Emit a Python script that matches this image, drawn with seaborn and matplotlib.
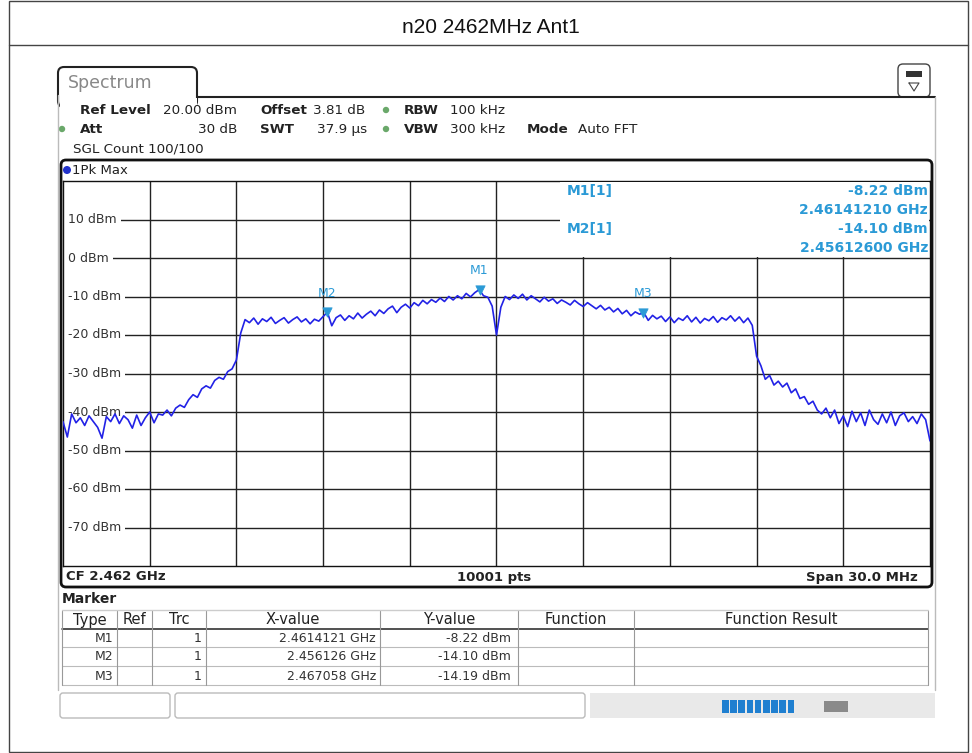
import numpy as np
import pandas as pd
import matplotlib
matplotlib.use("Agg")
import matplotlib.pyplot as plt
from matplotlib.patches import FancyBboxPatch, Rectangle, Circle
import seaborn as sns

# Trace levels (dBm), one point every 150 kHz from 2.447 GHz
f_start = 2.447
f_step = 0.00015
level_dbm = [
    -42.5, -46.5, -40.5, -42.8, -41.5, -43.5, -41.0, -42.5, -44.0, -46.8,
    -41.2, -42.5, -40.5, -43.0, -41.0, -42.0, -44.2, -40.8, -43.5, -41.5,
    -40.0, -42.8, -40.5, -40.8, -39.5, -41.0, -39.0, -38.2, -38.8, -36.8,
    -35.5, -36.2, -34.0, -33.2, -33.8, -31.8, -31.0, -31.5, -29.5, -28.8,
    -26.5, -19.5, -16.0, -16.8, -15.6, -17.2, -15.8, -16.5, -15.4, -17.0,
    -16.2, -15.5, -16.9, -16.0, -15.3, -16.6, -15.8, -17.1, -15.9, -16.4,
    -15.2, -14.1, -17.6, -15.5, -14.8, -16.2, -15.0, -15.8, -14.3, -15.6,
    -14.6, -13.8, -15.0, -13.5, -14.4, -13.2, -12.5, -14.2, -12.8, -12.0,
    -13.0, -11.6, -12.4, -11.0, -11.9, -10.8, -11.5, -10.4, -11.3, -10.0,
    -10.9, -9.8, -10.6, -9.2, -10.1, -9.0, -8.2, -9.8, -10.2, -12.5,
    -20.0, -12.8, -10.0, -10.8, -9.6, -10.5, -9.4, -10.9, -9.8, -10.6,
    -11.4, -10.2, -11.2, -10.6, -11.8, -10.9, -11.5, -12.2, -11.0, -11.9,
    -12.6, -11.6, -12.4, -13.2, -12.3, -13.5, -12.8, -14.0, -13.1, -14.5,
    -13.6, -15.0, -14.0, -14.6, -14.2, -16.2, -14.9, -15.8, -15.1, -16.5,
    -15.3, -16.8, -15.6, -16.2, -15.0, -16.6, -15.4, -16.9, -15.7, -16.3,
    -15.2, -16.7, -15.5, -16.1, -15.0, -16.4, -15.3, -16.8, -15.6, -17.5,
    -25.5, -28.0, -31.5, -30.5, -33.0, -32.0, -33.5, -32.5, -35.0, -34.0,
    -36.5, -36.0, -38.0, -37.2, -39.5, -40.5, -39.0, -41.5, -39.5, -43.0,
    -41.0, -43.8, -39.8, -42.5, -40.2, -43.5, -39.5, -42.0, -43.2, -40.5,
    -42.8, -40.0, -43.5, -41.0, -40.2, -42.5, -41.2, -43.0, -40.5, -42.0,
    -47.5,
]

marker_names = ["M1", "M2", "M3"]
marker_freq = [2.4614121, 2.456126, 2.467058]
marker_level = [-8.22, -14.10, -14.19]
marker_xtext = ["2.4614121 GHz", "2.456126 GHz", "2.467058 GHz"]
marker_ytext = ["-8.22 dBm", "-14.10 dBm", "-14.19 dBm"]
readout_lines = [("M1[1]", "-8.22 dBm", "2.46141210 GHz"),
                 ("M2[1]", "-14.10 dBm", "2.45612600 GHz")]

y_ticks = [10, 0, -10, -20, -30, -40, -50, -60, -70]
table_cols = ["Type", "Ref", "Trc", "X-value", "Y-value", "Function", "Function Result"]

df = pd.DataFrame({"freq": f_start + f_step * np.arange(len(level_dbm)), "level": level_dbm})
mk = pd.DataFrame({"freq": marker_freq, "level": marker_level, "name": marker_names})

W, H = 972, 753
TRACE = "#2222e6"
MBLUE = "#2b9ad6"
GREEN = "#6aa86a"

sns.set_style("white")
plt.rcParams["font.family"] = "DejaVu Sans"
fig = plt.figure(figsize=(W / 100, H / 100), dpi=100)

# background layer in pixel coordinates
bg = fig.add_axes([0, 0, 1, 1], zorder=0)
bg.set_xlim(0, W)
bg.set_ylim(H, 0)
bg.axis("off")

# outer title table
bg.add_patch(Rectangle((9, 1), 959, 751, fill=False, ec="#444", lw=1))
bg.plot([9, 968], [45, 45], color="#444", lw=1)
bg.text(491, 27, "n20 2462MHz Ant1", ha="center", va="center", fontsize=15,
        family="Liberation Sans", color="#111")

# spectrum tab and panel
bg.add_patch(FancyBboxPatch((58, 67), 139, 40, boxstyle="round,pad=0,rounding_size=6",
                            fc="white", ec="#222", lw=1.5))
bg.add_patch(Rectangle((59.5, 97.5), 137, 12, fc="white", ec="none", zorder=3))
bg.plot([197, 935], [97, 97], color="#222", lw=1.5)
bg.plot([58, 58], [95, 690], color="#bbb", lw=1)
bg.plot([935, 935], [97, 690], color="#bbb", lw=1)
bg.text(68, 83, "Spectrum", ha="left", va="center", fontsize=12.5, color="#888")
bg.add_patch(FancyBboxPatch((898, 64), 32, 33, boxstyle="round,pad=0,rounding_size=5",
                            fc="white", ec="#444", lw=1))
bg.add_patch(Rectangle((906, 71), 16, 6, fc="#333", ec="none"))
bg.plot([909, 919, 914, 909], [83, 83, 91, 83], color="#444", lw=0.8)

# settings header
hs = 9.7
def hdr(x, y, s, bold=False, ha="left"):
    bg.text(x, y, s, ha=ha, va="center", fontsize=hs, color="#222",
            fontweight="bold" if bold else "normal")

hdr(80, 110, "Ref Level", True)
hdr(163, 110, "20.00 dBm")
hdr(260, 110, "Offset", True)
hdr(313, 110, "3.81 dB")
hdr(404, 110, "RBW", True)
hdr(450, 110, "100 kHz")
hdr(80, 129, "Att", True)
hdr(237, 129, "30 dB", ha="right")
hdr(260, 129, "SWT", True)
hdr(317, 129, "37.9 µs")
hdr(404, 129, "VBW", True)
hdr(450, 129, "300 kHz")
hdr(527, 129, "Mode", True)
hdr(578, 129, "Auto FFT")
hdr(73, 149, "SGL Count 100/100")
for cx, cy in [(386, 110), (62, 129), (386, 129)]:
    bg.add_patch(Circle((cx, cy), 3.2, fc=GREEN, ec="none"))

# diagram frame
bg.add_patch(FancyBboxPatch((61, 160), 871, 427, boxstyle="round,pad=0,rounding_size=5",
                            fc="white", ec="#111", lw=2))
bg.add_patch(Circle((67, 170), 4, fc="#2233cc", ec="none"))
bg.text(72, 170, "1Pk Max", ha="left", va="center", fontsize=9.5, color="#222")
bg.text(66, 577, "CF 2.462 GHz", ha="left", va="center", fontsize=9.5, fontweight="bold", color="#222")
bg.text(494, 577, "10001 pts", ha="center", va="center", fontsize=9.5, fontweight="bold", color="#222")
bg.text(918, 577, "Span 30.0 MHz", ha="right", va="center", fontsize=9.5, fontweight="bold", color="#222")

# marker table
bg.text(62, 599, "Marker", ha="left", va="center", fontsize=10, fontweight="bold", color="#222")
col_x = [62, 117, 152, 206, 380, 518, 634, 928]
bg.plot([62, 928], [610, 610], color="#ccc", lw=1)
bg.plot([62, 928], [629, 629], color="#333", lw=1.2)
for yy in [647, 666, 685]:
    bg.plot([62, 928], [yy, yy], color="#bbb", lw=0.8)
for xx in col_x:
    bg.plot([xx, xx], [611, 685], color="#999", lw=0.8)
for i, name in enumerate(table_cols):
    bg.text((col_x[i] + col_x[i + 1]) / 2, 620, name, ha="center", va="center",
            fontsize=10.5, color="#222")
for r in range(len(marker_names)):
    yy = 638 + r * 19
    bg.text(col_x[1] - 4, yy, marker_names[r], ha="right", va="center", fontsize=9, color="#333")
    bg.text(col_x[3] - 4, yy, "1", ha="right", va="center", fontsize=9, color="#333")
    bg.text(col_x[4] - 4, yy, marker_xtext[r], ha="right", va="center", fontsize=9, color="#333")
    bg.text(col_x[5] - 7, yy, marker_ytext[r], ha="right", va="center", fontsize=9, color="#333")

# status bar
bg.add_patch(Rectangle((590, 693), 345, 25, fc="#e9e9e9", ec="none"))
bg.add_patch(FancyBboxPatch((60, 693), 110, 25, boxstyle="round,pad=0,rounding_size=3",
                            fc="white", ec="#bbb", lw=1))
bg.add_patch(FancyBboxPatch((175, 693), 410, 25, boxstyle="round,pad=0,rounding_size=3",
                            fc="white", ec="#bbb", lw=1))
for k in range(9):
    bg.add_patch(Rectangle((722 + k * 8.2, 700), 6.5, 13, fc="#1f7fd0", ec="none"))
bg.add_patch(Rectangle((824, 701), 24, 11, fc="#8a8a8a", ec="none"))

# spectrum plot
ax = fig.add_axes([63 / W, 1 - 566 / H, 867 / W, 385 / H], zorder=1)
ax.set_xlim(f_start, f_start + 0.030)
ax.set_ylim(-80, 20)
for gx in np.linspace(f_start, f_start + 0.030, 11)[1:-1]:
    ax.axvline(gx, color="#222", lw=1, zorder=1)
for gy in y_ticks:
    ax.axhline(gy, color="#222", lw=1, zorder=1)
    ax.text(0.006, gy, f"{gy} dBm", transform=ax.get_yaxis_transform(), ha="left", va="center",
            fontsize=9, color="#333", zorder=1.5,
            bbox=dict(boxstyle="square,pad=0.3", fc="white", ec="none"))
sns.lineplot(data=df, x="freq", y="level", ax=ax, color=TRACE, lw=1.2, zorder=3)
sns.scatterplot(data=mk, x="freq", y="level", ax=ax, marker="v", s=45, color=MBLUE,
                edgecolor=MBLUE, zorder=4)
for _, r in mk.iterrows():
    ax.annotate(r["name"], (r["freq"], r["level"]), xytext=(0, 9), textcoords="offset points",
                ha="center", va="bottom", fontsize=9, color=MBLUE, zorder=4)
ax.set_xticks([])
ax.set_yticks([])
ax.set_xlabel("")
ax.set_ylabel("")
for s in ax.spines.values():
    s.set_color("#111")
    s.set_linewidth(1)

# marker readout on top
top = fig.add_axes([0, 0, 1, 1], zorder=2)
top.set_xlim(0, W)
top.set_ylim(H, 0)
top.axis("off")
top.add_patch(Rectangle((560, 182), 369, 74.5, fc="white", ec="none"))
for k, (lab, lev, frq) in enumerate(readout_lines):
    y0 = 191 + k * 38
    top.text(567, y0, lab, ha="left", va="center", fontsize=10, fontweight="bold", color=MBLUE)
    top.text(928, y0, lev, ha="right", va="center", fontsize=10, fontweight="bold", color=MBLUE)
    top.text(928, y0 + 19, frq, ha="right", va="center", fontsize=10, fontweight="bold", color=MBLUE)

fig.savefig("out.png", dpi=100, facecolor="white")
